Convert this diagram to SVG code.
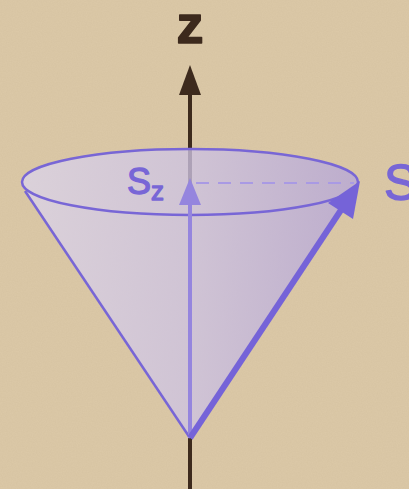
<svg xmlns="http://www.w3.org/2000/svg" width="409" height="489" viewBox="0 0 409 489">
  <defs>
    <style>
      .lbl { font-family: "Liberation Sans", Arial, sans-serif; fill: #7866d6; stroke: #7866d6; stroke-width: 1.3; stroke-linejoin: round; }
      .axis { stroke: #3d2a1d; stroke-width: 4; fill: none; }
      .rim { stroke: #7866d6; stroke-width: 2.5; fill: none; }
    </style>
    <linearGradient id="coneFill" x1="0" y1="0" x2="1" y2="0">
      <stop offset="0" stop-color="#dbd4e8"/>
      <stop offset="0.5" stop-color="#cdc3e2"/>
      <stop offset="1" stop-color="#b5a6d8"/>
    </linearGradient>
    <filter id="grain" x="0" y="0" width="100%" height="100%">
      <feTurbulence type="fractalNoise" baseFrequency="0.8" numOctaves="2" seed="3"/>
      <feColorMatrix type="matrix" values="0 0 0 0 0.45  0 0 0 0 0.35  0 0 0 0 0.2  0 0 0 0.14 0"/>
    </filter>
  </defs>

  <g id="background">
    <rect width="409" height="489" fill="#dcc9a8"/>
    <rect width="409" height="489" filter="url(#grain)"/>
  </g>

  <g id="axis-z">
    <line class="axis" x1="190" y1="92" x2="190" y2="489"/>
    <polygon points="190,65 179,95 201,95" fill="#3d2a1d"/>
    <text x="190" y="43" text-anchor="middle" font-family="Liberation Sans, Arial, sans-serif" font-weight="bold" font-size="54" fill="#3d2a1d" stroke="#3d2a1d" stroke-width="1.5" stroke-linejoin="round">z</text>
  </g>

  <g id="cone">
    <path d="M190,438 L25,189 A168 33 0 1 1 358,183 Z" fill="url(#coneFill)" fill-opacity="0.78"/>
    <ellipse class="rim" cx="190" cy="182" rx="168" ry="33"/>
    <line x1="25" y1="191" x2="190" y2="438" stroke="#7866d6" stroke-width="2.5"/>
  </g>

  <g id="connectors">
    <line id="projection" x1="196" y1="183" x2="354" y2="183" stroke="#a99ae4" stroke-width="2" stroke-dasharray="13 9"/>
    <g id="vector-Sz">
      <line x1="190" y1="438" x2="190" y2="200" stroke="#9585de" stroke-width="4"/>
      <polygon points="190,178 179,205 201,205" fill="#9585de"/>
    </g>
    <g id="vector-S">
      <line x1="190" y1="438" x2="345" y2="204" stroke="#7563d8" stroke-width="6"/>
      <polygon points="360,181 328,203 353,219" fill="#7563d8"/>
    </g>
  </g>

  <g id="label-Sz">
    <text class="lbl" x="127" y="194" font-size="36">S</text>
    <text class="lbl" x="151" y="200" font-size="26">z</text>
  </g>
  <g id="label-S">
    <text class="lbl" x="384" y="200" font-size="50">S</text>
  </g>
</svg>
